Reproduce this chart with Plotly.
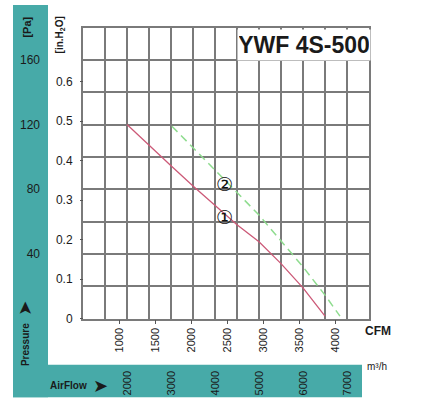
import plotly.graph_objects as go

# ---- data ----
flow_m3h_1 = [2000, 2500, 3000, 3500, 4000, 4500, 5000, 5500, 6000, 6500]
pressure_pa_1 = [120, 107, 94.5, 82, 70, 58, 47.5, 34, 19, 1.5]

flow_m3h_2 = [3020, 3500, 4000, 4500, 5000, 5500, 6000, 6500, 6840]
pressure_pa_2 = [119, 105.5, 91.5, 78, 64, 48, 32, 14.5, 1.5]

cfm_ticks = [1000, 1500, 2000, 2500, 3000, 3500, 4000]
m3h_ticks = [2000, 3000, 4000, 5000, 6000, 7000]
pa_ticks = [40, 80, 120, 160]
inh2o_ticks = [0, 0.1, 0.2, 0.3, 0.4, 0.5, 0.6]
inh2o_labels = ["0", "0.1", "0.2", "0.3", "0.4", "0.5", "0.6"]

W, H = 425, 417
def px(x):
    return x / W
def py(y):
    return 1 - y / H

TEAL = "#47aaa8"
GRID = "#7a7a7a"
FONT = "Liberation Sans, Arial, sans-serif"
TXT = "#1a1a1a"

dom_x = [px(83), px(369)]
dom_y = [py(324), py(28)]

fig = go.Figure()

fig.add_trace(go.Scatter(x=flow_m3h_1, y=pressure_pa_1, mode="lines",
                         line=dict(color="#cc5a78", width=1.3),
                         hoverinfo="skip", showlegend=False))
fig.add_trace(go.Scatter(x=flow_m3h_2, y=pressure_pa_2, mode="lines",
                         line=dict(color="#8fdc8f", width=1.5, dash="8px,5px"),
                         hoverinfo="skip", showlegend=False))
# empty traces to register the secondary axes
fig.add_trace(go.Scatter(x=[], y=[], xaxis="x2", yaxis="y", showlegend=False, hoverinfo="skip"))
fig.add_trace(go.Scatter(x=[], y=[], xaxis="x3", yaxis="y", showlegend=False, hoverinfo="skip"))
fig.add_trace(go.Scatter(x=[], y=[], xaxis="x", yaxis="y2", showlegend=False, hoverinfo="skip"))
fig.add_trace(go.Scatter(x=[], y=[], xaxis="x", yaxis="y3", showlegend=False, hoverinfo="skip"))

shapes = [
    dict(type="rect", xref="paper", yref="paper", x0=px(13), x1=px(48), y0=py(404), y1=py(5),
         fillcolor=TEAL, line=dict(width=0), layer="below"),
    dict(type="rect", xref="paper", yref="paper", x0=px(13), x1=px(362), y0=py(404), y1=py(371),
         fillcolor=TEAL, line=dict(width=0), layer="below"),
]

def note(text, x, y, size, angle=0, family=FONT, color=TXT):
    return dict(text=text, xref="paper", yref="paper", x=px(x), y=py(y), textangle=angle,
                xanchor="center", yanchor="middle", showarrow=False,
                font=dict(family=family, size=size, color=color))

annotations = [
    dict(text="<b>YWF 4S-500</b>", xref="paper", yref="paper", x=px(237), y=py(30),
         xanchor="left", yanchor="top", width=130, height=28, align="center", valign="middle",
         showarrow=False, bgcolor="white", font=dict(family=FONT, size=23, color="#1a1a1a")),
    dict(text="②", x=4205, y=83, xref="x", yref="y", showarrow=False,
         xanchor="center", yanchor="middle",
         font=dict(family="DejaVu Sans", size=19, color="#111111")),
    dict(text="①", x=4227, y=63, xref="x", yref="y", showarrow=False,
         xanchor="center", yanchor="middle",
         font=dict(family="DejaVu Sans", size=19, color="#111111")),
    note("<b>[Pa]</b>", 27, 27, 11, -90),
    note("<b>[in.H<sub>2</sub>O]</b>", 60, 36, 10, -90),
    note("<b>Pressure</b>", 25, 351, 10, -90),
    note("➤", 25, 314, 18, -90, family="DejaVu Sans"),
    note("<b>AirFlow</b>", 68, 392, 10),
    note("➤", 100, 392, 18, family="DejaVu Sans"),
    note("<b>CFM</b>", 378, 337, 12),
    note("m³/h", 377, 373, 10),
]

fig.update_layout(
    width=W, height=H,
    margin=dict(l=0, r=0, t=0, b=0),
    paper_bgcolor="white", plot_bgcolor="white",
    showlegend=False,
    shapes=shapes,
    annotations=annotations,
    xaxis=dict(domain=dom_x, range=[1000, 7500], dtick=500, tick0=1000,
               showgrid=True, gridcolor=GRID, gridwidth=1.5,
               showline=True, mirror=True, linecolor=GRID, linewidth=1.5,
               showticklabels=False, ticks="", zeroline=False, fixedrange=True),
    yaxis=dict(domain=dom_y, range=[0, 180], dtick=20, tick0=0,
               showgrid=True, gridcolor=GRID, gridwidth=1.5,
               showline=True, mirror=True, linecolor=GRID, linewidth=1.5,
               showticklabels=False, ticks="", zeroline=False, fixedrange=True),
    xaxis2=dict(overlaying="x", anchor="y", side="bottom", range=[500, 4472],
                tickmode="array", tickvals=cfm_ticks, ticktext=[str(v) for v in cfm_ticks],
                tickangle=-90, ticks="outside", ticklen=4, tickcolor="#555555", tickwidth=1,
                showgrid=False, showline=False, zeroline=False,
                tickfont=dict(family=FONT, size=11, color=TXT)),
    xaxis3=dict(overlaying="x", anchor="free", position=py(374), side="bottom", range=[1000, 7500],
                tickmode="array", tickvals=m3h_ticks, ticktext=[str(v) for v in m3h_ticks],
                tickangle=-90, ticks="", showgrid=False, showline=False, zeroline=False,
                tickfont=dict(family=FONT, size=11, color=TXT)),
    yaxis2=dict(overlaying="y", anchor="free", position=px(40), side="left", range=[0, 180],
                tickmode="array", tickvals=pa_ticks, ticktext=[str(v) for v in pa_ticks],
                ticks="", showgrid=False, showline=False, zeroline=False,
                tickfont=dict(family=FONT, size=12, color=TXT)),
    yaxis3=dict(overlaying="y", anchor="free", position=px(83), side="left", range=[0, 0.737],
                tickmode="array", tickvals=inh2o_ticks, ticktext=inh2o_labels,
                ticks="outside", ticklen=3, tickcolor="#555555", tickwidth=1,
                ticklabelstandoff=5,
                showgrid=False, showline=False, zeroline=False,
                tickfont=dict(family=FONT, size=12, color=TXT)),
)

fig.write_html("out.html")
